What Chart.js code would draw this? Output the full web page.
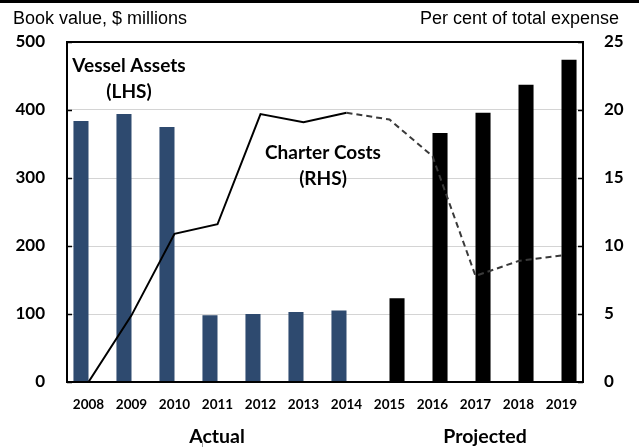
<!DOCTYPE html>
<html>
<head>
<meta charset="utf-8">
<script src="https://cdn.jsdelivr.net/npm/chart.js@4.4.1/dist/chart.umd.min.js"></script>
<style>
  html, body { margin: 0; padding: 0; background: #fff; }
  canvas { display: block; }
</style>
</head>
<body>
<canvas id="chart" width="639" height="447"></canvas>
<script>
const years = ['2008', '2009', '2010', '2011', '2012', '2013', '2014', '2015', '2016', '2017', '2018', '2019'];
// vessel assets, $ millions (LHS)
const actualAssets = [384, 394, 375, 98, 100, 103, 105, null, null, null, null, null];
const projectedAssets = [null, null, null, null, null, null, null, 123, 366, 396, 437, 474];
// charter costs, per cent of total expense (RHS)
const charterCosts = [0, 4.9, 10.9, 11.6, 19.7, 19.1, 19.8, 19.3, 16.6, 7.8, 8.9, 9.3];
const lastActual = 6; // index of 2014, line turns dashed after it

const boldFont = 'Lato, "Open Sans", sans-serif';

// frame, inward ticks and the free text labels
const decorations = {
    id: 'decorations',
    beforeDraw(chart) {
        const c = chart.ctx;
        c.save();
        c.fillStyle = '#fff';
        c.fillRect(0, 0, chart.width, chart.height);
        c.restore();
    },
    afterDraw(chart) {
        const c = chart.ctx;
        const a = chart.chartArea;
        const yL = chart.scales.y;
        const yR = chart.scales.y1;
        c.save();

        // rule across the top
        c.fillStyle = '#000';
        c.fillRect(0, 0, chart.width, 3);

        // plot frame
        c.strokeStyle = '#000';
        c.lineWidth = 2;
        c.strokeRect(a.left, a.top, a.right - a.left, a.bottom - a.top);

        // small inward tick marks
        c.lineWidth = 1.5;
        c.beginPath();
        yL.ticks.forEach(t => {
            const py = Math.round(yL.getPixelForValue(t.value)) + 0.5;
            c.moveTo(a.left, py); c.lineTo(a.left + 5, py);
        });
        yR.ticks.forEach(t => {
            const py = Math.round(yR.getPixelForValue(t.value)) + 0.5;
            c.moveTo(a.right - 5, py); c.lineTo(a.right, py);
        });
        c.stroke();

        // axis titles
        c.fillStyle = '#000';
        c.font = '18px "Liberation Sans", Arial, sans-serif';
        c.textBaseline = 'alphabetic';
        c.textAlign = 'left';
        c.fillText('Book value, $ millions', 13, 24);
        c.textAlign = 'right';
        c.fillText('Per cent of total expense', 619, 24);

        // series labels
        c.font = 'bold 19px ' + boldFont;
        c.textAlign = 'center';
        c.fillText('Vessel Assets', 129, 72);
        c.fillText('(LHS)', 129, 98);
        c.fillText('Charter Costs', 323, 159);
        c.fillText('(RHS)', 323, 185);

        c.font = 'bold 19.5px ' + boldFont;
        c.fillText('Actual', 217, 443);
        c.fillText('Projected', 485, 443);

        c.strokeStyle = '#999';
        c.lineWidth = 1;
        c.beginPath();
        c.moveTo(202.5, 441); c.lineTo(202.5, 447);
        c.stroke();

        c.restore();
    }
};

new Chart(document.getElementById('chart'), {
    type: 'bar',
    data: {
        labels: years,
        datasets: [
            {
                type: 'line',
                label: 'Charter Costs',
                data: charterCosts,
                yAxisID: 'y1',
                borderColor: '#000',
                borderWidth: 2,
                pointRadius: 0,
                tension: 0,
                order: 0,
                segment: {
                    borderDash: ctx => ctx.p0DataIndex >= lastActual ? [6, 4] : undefined,
                    borderColor: ctx => ctx.p0DataIndex >= lastActual ? '#3a3a3a' : '#000'
                }
            },
            {
                label: 'Vessel Assets (actual)',
                data: actualAssets,
                yAxisID: 'y',
                backgroundColor: '#2e4a6f',
                categoryPercentage: 0.7,
                barPercentage: 1,
                order: 1
            },
            {
                label: 'Vessel Assets (projected)',
                data: projectedAssets,
                yAxisID: 'y',
                backgroundColor: '#000',
                categoryPercentage: 0.7,
                barPercentage: 1,
                order: 1
            }
        ]
    },
    options: {
        responsive: false,
        animation: false,
        devicePixelRatio: 1,
        layout: { padding: { top: 42, left: 0, right: 0, bottom: 0 } },
        plugins: {
            legend: { display: false },
            tooltip: { enabled: false }
        },
        scales: {
            x: {
                grid: { display: false, drawTicks: false },
                border: { display: false },
                ticks: {
                    color: '#000',
                    padding: 15,
                    maxRotation: 0,
                    autoSkip: false,
                    font: { family: boldFont, weight: 'bold', size: 13.5 }
                },
                afterFit: s => { s.height = 65; }
            },
            y: {
                position: 'left',
                min: 0,
                max: 500,
                grid: { color: '#d4d4d4', lineWidth: 1, drawTicks: false },
                border: { display: false },
                ticks: {
                    stepSize: 100,
                    color: '#000',
                    padding: 22,
                    font: { family: boldFont, weight: 'bold', size: 17 }
                },
                afterFit: s => { s.width = 67; }
            },
            y1: {
                position: 'right',
                min: 0,
                max: 25,
                grid: { display: false, drawTicks: false },
                border: { display: false },
                ticks: {
                    stepSize: 5,
                    color: '#000',
                    padding: 21,
                    font: { family: boldFont, weight: 'bold', size: 17 }
                },
                afterFit: s => { s.width = 56; }
            }
        }
    },
    plugins: [decorations]
});
</script>
</body>
</html>
